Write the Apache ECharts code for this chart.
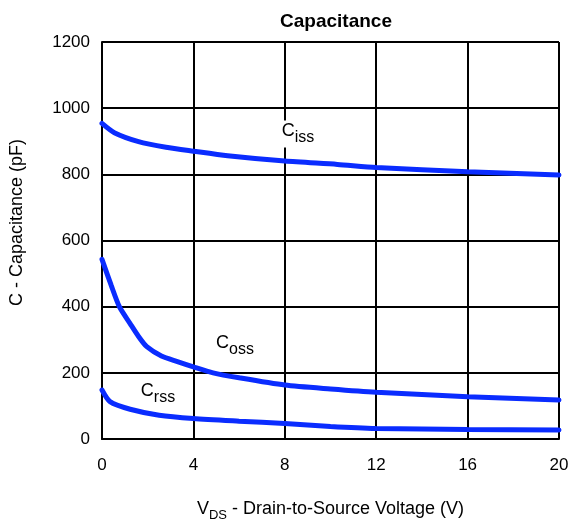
<!DOCTYPE html>
<html>
<head>
<meta charset="utf-8">
<script src="https://cdn.jsdelivr.net/npm/echarts@6/dist/echarts.min.js"></script>
<style>
html,body{margin:0;padding:0;background:#fff;}
#chart{width:571px;height:522px;}
</style>
</head>
<body>
<div id="chart"></div>
<script>
// Data (V_DS in volts, capacitance in pF)
var cissData = [[0,954],[0.54,926],[1.6,899],[2.8,882],[4,870],[5.5,856],[8,840],[10.3,830],[12,821],[16,808],[20,798]];
var cossData = [[0,543],[0.4,465],[0.76,400],[1.23,349],[1.6,310],[1.96,279],[2.6,251],[3.3,234],[4,218],[4.86,200],[6,185],[8,163],[10,151],[12,141],[16,128],[20,118]];
var crssData = [[0,148],[0.35,113],[1.23,90],[2.5,72],[4,62],[6,54],[8,47],[10,38],[12,32],[16,29],[20,27]];
var xTicks = [0,4,8,12,16,20];
var yTicks = [0,200,400,600,800,1000,1200];
var seriesLabels = [
  {main:'C', sub:'iss', at:[8.58, 922], bg:true},
  {main:'C', sub:'oss', at:[5.82, 282], bg:false},
  {main:'C', sub:'rss', at:[2.45, 136], bg:false}
];

var chart = echarts.init(document.getElementById('chart'), null, {renderer:'canvas'});
var FONT = 'Liberation Sans, Arial, sans-serif';
var BLUE = '#0a2cff';

function lineSeries(name, data){
  return {
    name: name, type:'line', data:data, showSymbol:false, smooth:0.25,
    lineStyle:{color:BLUE, width:5, cap:'round'}, z:3, animation:false
  };
}

var option = {
  animation:false,
  backgroundColor:'#fff',
  title:{
    text:'Capacitance', left:331, top:7, textAlign:'center',
    textStyle:{fontFamily:FONT, fontSize:19, fontWeight:'bold', color:'#000'}
  },
  grid:{left:102, right:12, top:42, bottom:83, containLabel:false, outerBoundsMode:'none'},
  xAxis:{
    type:'value', min:xTicks[0], max:xTicks[xTicks.length-1], interval:4,
    axisLine:{show:true, lineStyle:{color:'#000', width:2}},
    axisTick:{show:false},
    splitLine:{show:true, lineStyle:{color:'#000', width:2}},
    axisLabel:{fontFamily:FONT, fontSize:17, color:'#000', margin:18},
    name:'{v|V}{s|DS}{t| - Drain-to-Source Voltage (V)}',
    nameLocation:'middle', nameGap:61,
    nameTextStyle:{
      fontFamily:FONT, color:'#000',
      rich:{
        v:{fontFamily:FONT, fontSize:18, color:'#000', padding:[0,0,4,0]},
        s:{fontFamily:FONT, fontSize:13, color:'#000', verticalAlign:'bottom'},
        t:{fontFamily:FONT, fontSize:18, color:'#000', padding:[0,0,4,0]}
      }
    }
  },
  yAxis:{
    type:'value', min:yTicks[0], max:yTicks[yTicks.length-1], interval:200,
    axisLine:{show:true, lineStyle:{color:'#000', width:2}},
    axisTick:{show:false},
    splitLine:{show:true, lineStyle:{color:'#000', width:2}},
    axisLabel:{fontFamily:FONT, fontSize:17, color:'#000', margin:12,
      formatter:function(v){ return String(v); }},
    name:'C - Capacitance (pF)', nameLocation:'middle', nameGap:76, nameRotate:90,
    nameTextStyle:{fontFamily:FONT, fontSize:18, color:'#000', padding:[0,0,0,36]}
  },
  series:[
    lineSeries('Ciss', cissData),
    lineSeries('Coss', cossData),
    lineSeries('Crss', crssData)
  ]
};
chart.setOption(option);

var graphics = seriesLabels.map(function(l){
  var p = chart.convertToPixel({gridIndex:0}, l.at);
  return {
    type:'text', x:p[0], y:p[1], z:10,
    style:{
      text:'{c|' + l.main + '}{s|' + l.sub + '}',
      align:'center', verticalAlign:'middle',
      backgroundColor: l.bg ? '#fff' : 'transparent',
      padding:[2,2,2,2],
      rich:{
        c:{fontFamily:FONT, fontSize:18, fill:'#000', padding:[0,0,5,0]},
        s:{fontFamily:FONT, fontSize:16, fill:'#000', verticalAlign:'bottom'}
      }
    }
  };
});
chart.setOption({graphic:graphics});
</script>
</body>
</html>
